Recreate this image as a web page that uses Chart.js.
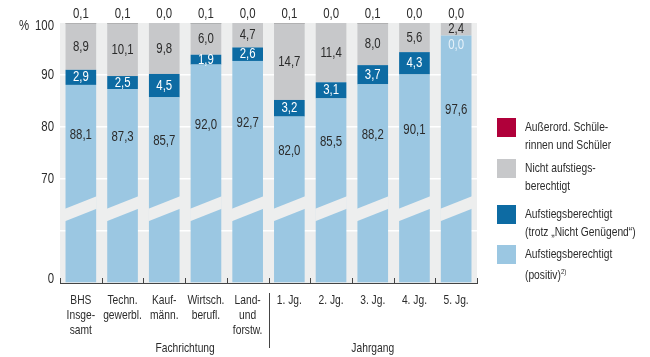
<!DOCTYPE html>
<html lang="de">
<head>
<meta charset="utf-8">
<title>Aufstiegsberechtigung BHS</title>
<script src="https://cdn.jsdelivr.net/npm/chart.js@4.4.1/dist/chart.umd.min.js"></script>
<style>
  html, body { margin: 0; padding: 0; background: #fff; }
  .wrap {
    position: relative; width: 650px; height: 357px;
    font-family: 'Liberation Sans', Arial, sans-serif;
    color: #2b2b2b;
  }
  canvas { display: block; }
  .legend { position: absolute; left: 0; top: 0; margin: 0; padding: 0; list-style: none; }
  .legend li { position: absolute; left: 497px; width: 150px; }
  .legend li:nth-child(1) { top: 118px; }
  .legend li:nth-child(2) { top: 159px; }
  .legend li:nth-child(3) { top: 205px; }
  .legend li:nth-child(4) { top: 245px; }
  .legend .sw { position: absolute; left: 0; top: 0; width: 19px; height: 19px; }
  .legend .tx {
    position: absolute; left: 28px; top: 0; font-size: 13.5px; line-height: 17.5px;
    white-space: nowrap; transform: scaleX(0.76); transform-origin: 0 0;
  }
  .legend sup { font-size: 8px; vertical-align: 5px; }
</style>
</head>
<body>
<div class="wrap">
  <canvas id="chart" width="650" height="357"></canvas>
  <ul class="legend" id="legend"></ul>
</div>
<script>
// ---- Daten ----
const categories = [
  ['BHS', 'Insge-', 'samt'], ['Techn.', 'gewerbl.'], ['Kauf-', 'männ.'],
  ['Wirtsch.', 'berufl.'], ['Land-', 'und', 'forstw.'],
  '1. Jg.', '2. Jg.', '3. Jg.', '4. Jg.', '5. Jg.'
];
const positiv       = [88.1, 87.3, 85.7, 92.0, 92.7, 82.0, 85.5, 88.2, 90.1, 97.6];
const trotzNG       = [ 2.9,  2.5,  4.5,  1.9,  2.6,  3.2,  3.1,  3.7,  4.3,  0.0];
const nichtAufstieg = [ 8.9, 10.1,  9.8,  6.0,  4.7, 14.7, 11.4,  8.0,  5.6,  2.4];
const ausserord     = [ 0.1,  0.1,  0.0,  0.1,  0.0,  0.1,  0.0,  0.1,  0.0,  0.0];
const yTicks = [0, 35, 70, 80, 90, 100];
const groupNames = ['Fachrichtung', 'Jahrgang'];

const legendItems = [
  { color: '#b0003a', html: 'Außerord. Schüle-<br>rinnen und Schüler' },
  { color: '#c7c8ca', html: 'Nicht aufstiegs-<br>berechtigt' },
  { color: '#0d6ba3', html: 'Aufstiegsberechtigt<br>(trotz „Nicht Genügend“)' },
  { color: '#9bc7e2', html: 'Aufstiegsberechtigt<br>(positiv)<sup>2)</sup>' },
];

const FONT = "'Liberation Sans', Arial, sans-serif";
const NARROW = 0.76;            // horizontale Stauchung der Schrift
const TEXT = '#2b2b2b';
const PLOT_BG = '#edeeee';

// ---- unterbrochene y-Achse: 0–70 gestaucht, 70–100 linear ----
const BREAK = 70, LOW_SPAN = 20, TOTAL_SPAN = 50;
const toDisplay   = (v) => v <= BREAK ? v * LOW_SPAN / BREAK : LOW_SPAN + (v - BREAK);
const fromDisplay = (d) => d <= LOW_SPAN ? d * BREAK / LOW_SPAN : BREAK + (d - LOW_SPAN);

class BrokenLinearScale extends Chart.LinearScale {
  buildTicks() { return yTicks.map(value => ({ value })); }
  getPixelForValue(v) {
    return v == null ? NaN : this.getPixelForDecimal(toDisplay(v) / TOTAL_SPAN);
  }
  getValueForPixel(p) { return fromDisplay(this.getDecimalForPixel(p) * TOTAL_SPAN); }
}
BrokenLinearScale.id = 'brokenLinear';
BrokenLinearScale.defaults = Chart.LinearScale.defaults;
Chart.register(BrokenLinearScale);

const fmt = (v) => v.toFixed(1).replace('.', ',');

// schmal laufende Schrift auf dem Canvas
function narrowText(ctx, str, x, y, size, align = 'center', color = TEXT) {
  ctx.save();
  ctx.translate(x, y);
  ctx.scale(NARROW, 1);
  ctx.font = `${size}px ${FONT}`;
  ctx.textAlign = align;
  ctx.textBaseline = 'middle';
  ctx.fillStyle = color;
  ctx.fillText(str, 0, 0);
  ctx.restore();
}

// ---- Legende ----
const legendEl = document.getElementById('legend');
legendItems.forEach(item => {
  const li = document.createElement('li');
  li.innerHTML = `<span class="sw" style="background:${item.color}"></span><span class="tx">${item.html}</span>`;
  legendEl.appendChild(li);
});

// Hintergrund der Zeichenfläche
const plotBackground = {
  id: 'plotBackground',
  beforeDraw(chart) {
    const { ctx, chartArea: a } = chart;
    ctx.save();
    ctx.fillStyle = PLOT_BG;
    ctx.fillRect(a.left, a.top, a.right - a.left, a.bottom - a.top);
    ctx.restore();
  },
};

// Bruchstelle in jedem Balken + Werte
const breakAndValues = {
  id: 'breakAndValues',
  afterDatasetsDraw(chart) {
    const { ctx, scales: { y }, chartArea } = chart;
    const bars = chart.getDatasetMeta(0).data;
    const yc = y.getPixelForValue(50);
    const half = 6.25, rise = 6.25;

    ctx.save();
    ctx.fillStyle = PLOT_BG;
    bars.forEach(bar => {
      const l = bar.x - bar.width / 2 - 0.5;
      const r = bar.x + bar.width / 2 + 0.5;
      ctx.beginPath();
      ctx.moveTo(l, yc + rise - half);
      ctx.lineTo(r, yc - rise - half);
      ctx.lineTo(r, yc - rise + half);
      ctx.lineTo(l, yc + rise + half);
      ctx.closePath();
      ctx.fill();
    });
    ctx.restore();

    const anchor = y.getPixelForValue(66);
    bars.forEach((bar, i) => {
      const p = positiv[i], t = trotzNG[i], n = nichtAufstieg[i];
      const yp = y.getPixelForValue(p);
      const ypt = y.getPixelForValue(p + t);
      const ytop = y.getPixelForValue(p + t + n);

      narrowText(ctx, fmt(p), bar.x, (yp + anchor) / 2, 15);
      if (t > 0) narrowText(ctx, fmt(t), bar.x, (yp + ypt) / 2, 15, 'center', '#ffffff');
      else narrowText(ctx, fmt(t), bar.x, yp + 9, 15, 'center', '#e6f2fa');
      narrowText(ctx, fmt(n), bar.x, (ypt + ytop) / 2, 15);
      narrowText(ctx, fmt(ausserord[i]), bar.x, chartArea.top - 9, 15);
    });
  },
};

// Achsenbeschriftung, Teilstriche, Gruppen
const axisExtras = {
  id: 'axisExtras',
  afterDraw(chart) {
    const { ctx, scales: { x, y }, chartArea } = chart;
    ctx.save();
    ctx.strokeStyle = '#444';
    ctx.lineWidth = 1;
    ctx.beginPath();
    for (let i = 0; i <= categories.length; i++) {
      const px = Math.round(x.getPixelForValue(i - 0.5)) + 0.5;
      ctx.moveTo(px, chartArea.bottom);
      ctx.lineTo(px, chartArea.bottom - 5);
    }
    const sep = Math.round(x.getPixelForValue(4.5)) + 0.5;
    ctx.moveTo(sep, chartArea.bottom + 10);
    ctx.lineTo(sep, chartArea.bottom + 65);
    ctx.stroke();
    ctx.restore();

    // y-Achse
    y.ticks.forEach(t => {
      if (t.value === 35) return;
      const py = Math.min(Math.max(y.getPixelForValue(t.value), chartArea.top + 3), chartArea.bottom - 4);
      narrowText(ctx, String(t.value), chartArea.left - 6, py, 15, 'right');
      if (t.value === 100) narrowText(ctx, '%', 24, py, 15);
    });

    // x-Achse
    x.getLabels().forEach((lab, i) => {
      const lines = Array.isArray(lab) ? lab : [lab];
      const px = x.getPixelForTick(i);
      lines.forEach((line, k) => narrowText(ctx, line, px, chartArea.bottom + 17 + k * 15.3, 13.5));
    });

    narrowText(ctx, groupNames[0], x.getPixelForValue(2.5), chartArea.bottom + 65, 13.5);
    narrowText(ctx, groupNames[1], x.getPixelForValue(7), chartArea.bottom + 65, 13.5);
  },
};

const barStyle = { categoryPercentage: 1.0, barPercentage: 0.735, borderWidth: 0 };

new Chart(document.getElementById('chart').getContext('2d'), {
  type: 'bar',
  data: {
    labels: categories,
    datasets: [
      { label: 'Aufstiegsberechtigt (positiv)', data: positiv, backgroundColor: '#9bc7e2', ...barStyle },
      { label: 'Aufstiegsberechtigt (trotz „Nicht Genügend“)', data: trotzNG, backgroundColor: '#0d6ba3', ...barStyle },
      { label: 'Nicht aufstiegsberechtigt', data: nichtAufstieg, backgroundColor: '#c7c8ca', ...barStyle },
      { label: 'Außerord. Schülerinnen und Schüler', data: ausserord.map(v => v || null),
        backgroundColor: '#4d4d4d', minBarLength: 1.5, ...barStyle },
    ],
  },
  options: {
    responsive: false,
    animation: false,
    devicePixelRatio: 1,
    layout: { padding: { top: 23, right: 173, bottom: 0, left: 0 } },
    scales: {
      x: {
        stacked: true,
        grid: { display: false },
        border: { display: true, color: '#444', width: 1 },
        ticks: { display: false },
        afterFit: (s) => { s.height = 74; },
      },
      y: {
        type: 'brokenLinear',
        stacked: true,
        min: 0,
        max: 100,
        grid: {
          color: (c) => (c.tick && (c.tick.value === 0 || c.tick.value === 100)) ? 'rgba(0,0,0,0)' : '#ffffff',
          lineWidth: 1.5,
          drawTicks: false,
        },
        border: { display: false },
        ticks: { display: false },
        afterFit: (s) => { s.width = 60; },
      },
    },
    plugins: {
      legend: { display: false },
      tooltip: { enabled: false },
    },
  },
  plugins: [plotBackground, breakAndValues, axisExtras],
});
</script>
</body>
</html>
